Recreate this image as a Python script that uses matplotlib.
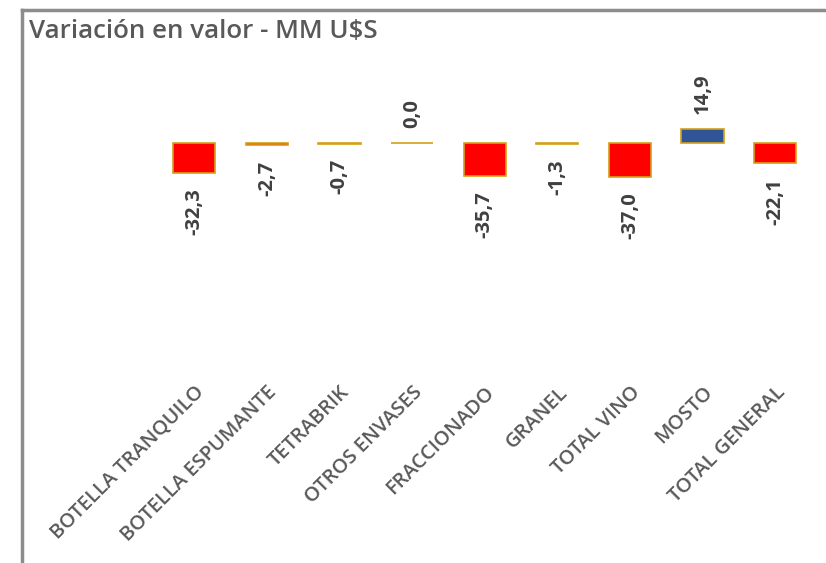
import matplotlib.pyplot as plt
from matplotlib.lines import Line2D

# datos
categorias = ["BOTELLA TRANQUILO", "BOTELLA ESPUMANTE", "TETRABRIK", "OTROS ENVASES",
              "FRACCIONADO", "GRANEL", "TOTAL VINO", "MOSTO", "TOTAL GENERAL"]
valores = [-32.3, -2.7, -0.7, 0.0, -35.7, -1.3, -37.0, 14.9, -22.1]
etiquetas = ["-32,3", "-2,7", "-0,7", "0,0", "-35,7", "-1,3", "-37,0", "14,9", "-22,1"]

W, H = 826, 563
fig = plt.figure(figsize=(W / 100, H / 100), dpi=100)
plt.rcParams['font.family'] = ['Open Sans', 'DejaVu Sans']

# marco gris
fig.add_artist(Line2D([22 / W, 22 / W], [0, 1 - 10 / H], transform=fig.transFigure,
                      color='#8c8c8c', lw=2.5))
fig.add_artist(Line2D([22 / W, 1], [1 - 10 / H, 1 - 10 / H], transform=fig.transFigure,
                      color='#8c8c8c', lw=2.5))

fig.text(29 / W, 1 - 32 / H, "Variación en valor - MM U$S", fontsize=18.6,
         fontweight='semibold', color='#595959', va='center', ha='left')

# ejes
x0, x1 = 158, 811.4
y0, y1 = 60, 377
zero = 143
esc = 0.92  # px por unidad
ax = fig.add_axes([x0 / W, 1 - y1 / H, (x1 - x0) / W, (y1 - y0) / H])
ax.set_ylim(-(y1 - zero) / esc, (zero - y0) / esc)
ax.set_xlim(-0.5, len(categorias) - 0.5)

pos = list(range(len(categorias)))
colores = ['#2F5597' if v > 0 else '#FF0000' for v in valores]
ax.bar(pos, valores, width=0.58, color=colores, edgecolor='#D4A017', linewidth=1.2)

for i, (v, t) in enumerate(zip(valores, etiquetas)):
    if v >= 0:
        ax.annotate(t, (i, v), xytext=(0, 11), textcoords='offset points', rotation=90,
                    ha='center', va='bottom', fontsize=14.5, fontweight='bold', color='#404040')
    else:
        ax.annotate(t, (i, v), xytext=(0, -11), textcoords='offset points', rotation=90,
                    ha='center', va='top', fontsize=14.5, fontweight='bold', color='#404040')

ax.set_xticks(pos)
ax.set_xticklabels(categorias, rotation=45, ha='right', rotation_mode='anchor',
                   fontsize=14.5, color='#595959', fontweight='semibold')
ax.tick_params(axis='x', length=0, pad=4)
ax.set_yticks([])
for s in ax.spines.values():
    s.set_visible(False)

plt.savefig("out.png", dpi=100)
